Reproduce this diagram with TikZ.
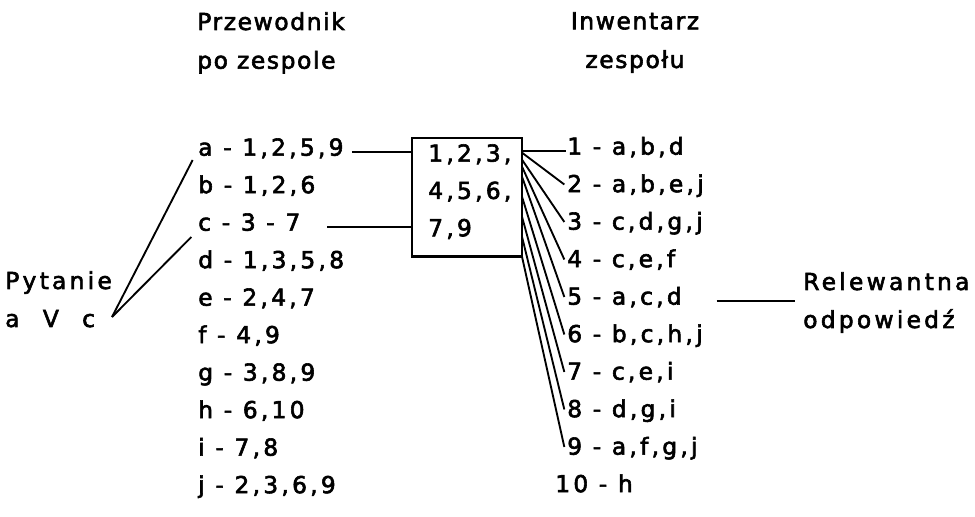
\documentclass[tikz,border=0pt]{standalone}
\usepackage{fontspec}
\setmainfont[LetterSpace=7, FakeBold=2.5]{DejaVu Sans}
\newfontfamily\spaced[LetterSpace=14, FakeBold=2.5]{DejaVu Sans}
\usetikzlibrary{calc}

\begin{document}
\begin{tikzpicture}[x=0.75pt, y=-0.75pt,
  heading/.style={inner sep=0, align=left, font=\fontsize{17.5}{29}\selectfont},
  entry/.style={anchor=mid west, inner sep=0, font=\spaced\fontsize{17.5}{28}\selectfont},
  conn/.style={line width=1.4pt}]
  \useasboundingbox (0,0) rectangle (975,517);

  \node[heading, anchor=north west] (guide) at (197,12) {Przewodnik\\po zespole};
  \node[heading, align=center, anchor=north] (inventory) at (635,12) {Inwentarz\\zespołu};
  \node[heading, font=\spaced\fontsize{17.5}{28.5}\selectfont, anchor=north west] (query) at (5,271) {Pytanie\\a\hspace{1em}V\hspace{1em}c};
  \node[heading, font=\spaced\fontsize{17.5}{28.5}\selectfont, anchor=north west] (answer) at (803,272) {Relewantna\\odpowiedź};
  \coordinate (qv) at (112,317);

  % przewodnik
  \node[entry] (la) at (198,152) {a - 1,2,5,9};
  \node[entry] (lb) at (198,189.5) {b - 1,2,6};
  \node[entry] (lc) at (198,227) {c - 3 - 7};
  \node[entry] (ld) at (198,264.5) {d - 1,3,5,8};
  \node[entry] (le) at (198,302) {e - 2,4,7};
  \node[entry] (lf) at (198,339.5) {f - 4,9};
  \node[entry] (lg) at (198,377) {g - 3,8,9};
  \node[entry] (lh) at (198,414.5) {h - 6,10};
  \node[entry] (li) at (198,452) {i - 7,8};
  \node[entry] (lj) at (198,489.5) {j - 2,3,6,9};

  % iloczyn
  \node[draw, line width=1.8pt, outer sep=0, minimum width=82.5pt, minimum height=89pt, anchor=north west] (box) at (412,138) {};
  \node[entry, align=left, anchor=north west] (boxtext) at (428,144) {1,2,3,\\4,5,6,\\7,9};

  % inwentarz
  \node[entry] (r1) at (567,151) {1 - a,b,d};
  \node[entry] (r2) at (567,188.5) {2 - a,b,e,j};
  \node[entry] (r3) at (567,226) {3 - c,d,g,j};
  \node[entry] (r4) at (567,263.5) {4 - c,e,f};
  \node[entry] (r5) at (567,301) {5 - a,c,d};
  \node[entry] (r6) at (567,338.5) {6 - b,c,h,j};
  \node[entry] (r7) at (567,376) {7 - c,e,i};
  \node[entry] (r8) at (567,413.5) {8 - d,g,i};
  \node[entry] (r9) at (567,451) {9 - a,f,g,j};
  \node[entry] (r10) at (555,488.5) {10 - h};

  \draw[conn] (qv) -- ([xshift=-4, yshift=-6]la.mid west);
  \draw[conn] (qv) -- ([xshift=-5, yshift=-7.5]lc.mid west);
  \draw[conn] ([xshift=6]la.mid east) -- (la.mid east -| box.west);
  \draw[conn] ([xshift=20]lc.mid east) -- (lc.mid east -| box.west);

  \draw[conn] (r1.mid west -| box.east) -- ([xshift=-1]r1.mid west);
  \draw[conn] ($(box.south east)+(0,-104)$) -- ([xshift=-2, yshift=3]r2.mid west);
  \draw[conn] ($(box.south east)+(0,-97)$) -- ([xshift=-2, yshift=3]r3.mid west);
  \draw[conn] ($(box.south east)+(0,-90)$) -- ([xshift=-2, yshift=3]r4.mid west);
  \draw[conn] ($(box.south east)+(0,-80)$) -- ([xshift=-2, yshift=3]r5.mid west);
  \draw[conn] ($(box.south east)+(0,-60)$) -- ([xshift=-2, yshift=3]r6.mid west);
  \draw[conn] ($(box.south east)+(0,-40)$) -- ([xshift=-2, yshift=3]r7.mid west);
  \draw[conn] ($(box.south east)+(0,-20)$) -- ([xshift=-2, yshift=3]r8.mid west);
  \draw[conn] (box.south east) -- ([xshift=-2, yshift=3]r9.mid west);

  \draw[conn] ([xshift=26]r5.mid east) -- ([xshift=-6]r5.mid east -| answer.west);
\end{tikzpicture}
\end{document}
